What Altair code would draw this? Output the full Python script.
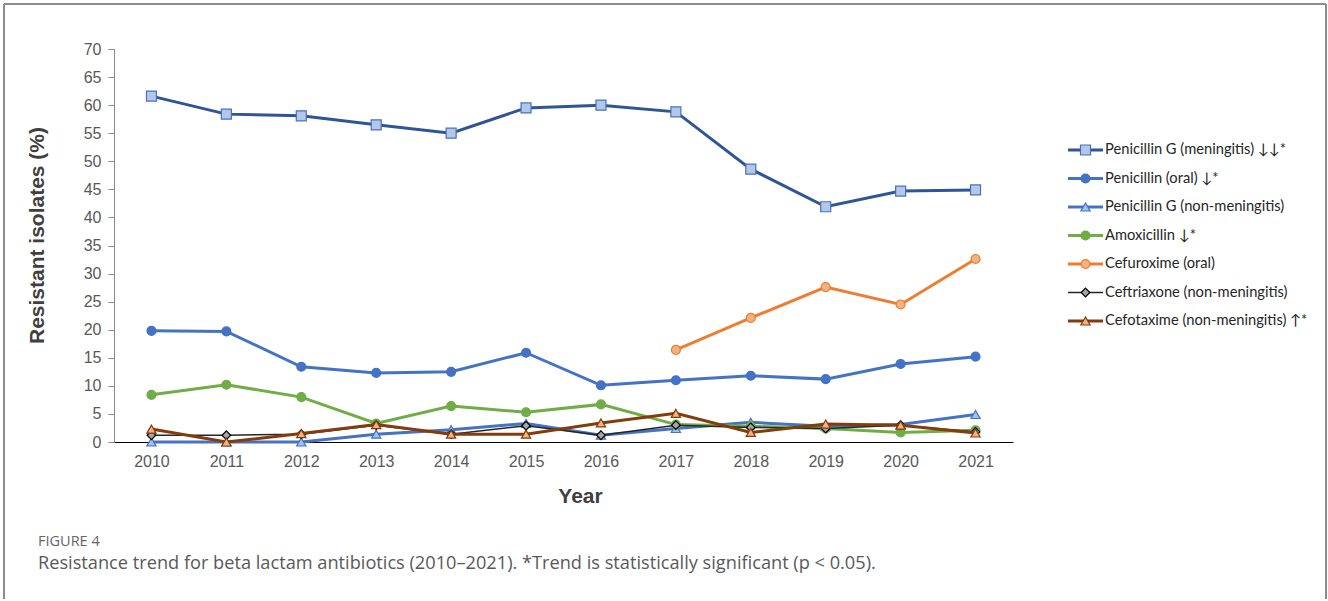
import altair as alt
import pandas as pd

# ---------------- data ----------------
years = list(range(2010, 2022))
pen_g_meningitis = [61.6, 58.4, 58.1, 56.5, 55.0, 59.5, 60.0, 58.8, 48.6, 41.9, 44.7, 44.9]
pen_oral = [19.8, 19.7, 13.4, 12.3, 12.5, 15.9, 10.1, 11.0, 11.8, 11.2, 13.9, 15.2]
pen_g_non_meningitis = [0.0, 0.0, 0.0, 1.4, 2.2, 3.3, 1.2, 2.4, 3.5, 2.8, 3.1, 4.9]
amoxicillin = [8.4, 10.2, 8.0, 3.3, 6.4, 5.3, 6.7, 3.1, 2.8, 2.4, 1.7, 2.1]
cefuroxime_oral = [None, None, None, None, None, None, None, 16.4, 22.1, 27.6, 24.5, 32.6]
ceftriaxone = [1.2, 1.2, 1.4, 3.0, 1.4, 2.9, 1.2, 3.0, 2.6, 2.4, 3.0, 1.8]
cefotaxime = [2.3, 0.0, 1.5, 3.1, 1.4, 1.4, 3.4, 5.1, 1.7, 3.2, 3.0, 1.6]

series_labels = [
    "Penicillin G (meningitis) \u2193\u2193*",
    "Penicillin (oral) \u2193*",
    "Penicillin G (non-meningitis)",
    "Amoxicillin \u2193*",
    "Cefuroxime (oral)",
    "Ceftriaxone (non-meningitis)",
    "Cefotaxime (non-meningitis) \u2191*",
]
series_values = [pen_g_meningitis, pen_oral, pen_g_non_meningitis, amoxicillin,
                 cefuroxime_oral, ceftriaxone, cefotaxime]

y_ticks = list(range(0, 75, 5))
x_title = "Year"
y_title = "Resistant isolates (%)"
fig_label = "FIGURE 4"
caption = ("Resistance trend for beta lactam antibiotics (2010\u20132021). "
           "*Trend is statistically significant (p < 0.05).")

# ---------------- styles ----------------
styles = [
    dict(line="#2F5597", width=3, shape="square", fill="#B4C7E7", stroke="#4472C4", size=100),
    dict(line="#4472C4", width=3, shape="circle", fill="#4472C4", stroke="#4472C4", size=80),
    dict(line="#4472C4", width=3, shape="triangle-up", fill="#9DC3E6", stroke="#4472C4", size=85),
    dict(line="#70AD47", width=3, shape="circle", fill="#70AD47", stroke="#70AD47", size=80),
    dict(line="#ED7D31", width=3, shape="circle", fill="#F4B183", stroke="#ED7D31", size=80),
    dict(line="#262626", width=1.5, shape="diamond", fill="#A5A5A5", stroke="#000000", size=75),
    dict(line="#843C0C", width=3, shape="triangle-up", fill="#F4B183", stroke="#843C0C", size=85),
]

rows = []
for i, (lab, vals) in enumerate(zip(series_labels, series_values)):
    for yr, v in zip(years, vals):
        if v is not None:
            rows.append({"series": lab, "idx": i, "year": yr, "value": v})
df = pd.DataFrame(rows)
legend_df = pd.DataFrame({"series": series_labels, "idx": list(range(len(series_labels)))})
one = pd.DataFrame({"k": [0]})

W, H = 899, 393

x_enc = alt.X("year:O",
              scale=alt.Scale(type="point", padding=0.5, domain=years),
              axis=alt.Axis(title=x_title, labelAngle=0, ticks=False,
                            domainColor="#000000", domainWidth=1.2,
                            labelColor="#595959", labelFontSize=16,
                            labelFont="Liberation Sans", labelPadding=11,
                            titleFont="Liberation Sans", titleFontSize=21,
                            titleFontWeight="bold", titleColor="#404040",
                            titlePadding=16, titleX=466))

def y_enc(with_axis):
    if with_axis:
        ax = alt.Axis(title=y_title, values=y_ticks, grid=False,
                      domainColor="#898989", tickColor="#898989", tickSize=6,
                      labelColor="#595959", labelFontSize=16, labelFont="Liberation Sans",
                      labelPadding=7, titleFont="Liberation Sans", titleFontSize=21,
                      titleFontWeight="bold", titleColor="#404040", titlePadding=36,
                      titleY=186)
    else:
        ax = None
    return alt.Y("value:Q", scale=alt.Scale(domain=[0, 70], nice=False, zero=True), axis=ax)

leg_y = alt.Y("idx:Q", scale=alt.Scale(domain=[-3.544, 10.245], reverse=True, nice=False, zero=False),
              axis=None)

layers = []
for i, lab in enumerate(series_labels):
    st = styles[i]
    sub = df[df["series"] == lab]
    line = alt.Chart(sub).mark_line(color=st["line"], strokeWidth=st["width"]).encode(
        x=x_enc, y=y_enc(i == 0))
    pts = alt.Chart(sub).mark_point(shape=st["shape"], filled=True, fill=st["fill"],
                                    stroke=st["stroke"], strokeWidth=1.2, size=st["size"],
                                    opacity=1).encode(x=x_enc, y=y_enc(False))
    layers += [line, pts]

# legend
for i, lab in enumerate(series_labels):
    st = styles[i]
    sub = legend_df[legend_df["series"] == lab]
    lr = alt.Chart(sub).mark_rule(color=st["line"], strokeWidth=st["width"]).encode(
        x=alt.value(954), x2=alt.value(989), y=leg_y)
    lp = alt.Chart(sub).mark_point(shape=st["shape"], filled=True, fill=st["fill"],
                                   stroke=st["stroke"], strokeWidth=1.2, size=st["size"],
                                   opacity=1).encode(x=alt.value(971.5), y=leg_y)
    lt = alt.Chart(sub).mark_text(align="left", baseline="middle", font="Lato",
                                  fontSize=14.7, color="#262626").encode(
        x=alt.value(991), y=leg_y, text="series:N")
    layers += [lr, lp, lt]

# caption
cap1 = alt.Chart(one).mark_text(align="left", baseline="middle", font="Open Sans", fontSize=14.5,
                                color="#666666").encode(
    x=alt.value(-76), y=alt.value(493), text=alt.value(fig_label))
cap2 = alt.Chart(one).mark_text(align="left", baseline="middle", font="Open Sans", fontSize=18.2,
                                color="#595959").encode(
    x=alt.value(-76), y=alt.value(515), text=alt.value(caption))
layers += [cap1, cap2]

# figure frame
fr_col = "#8c8c8c"
f1 = alt.Chart(one).mark_rule(color=fr_col, strokeWidth=2).encode(
    x=alt.value(-110), y=alt.value(-45), y2=alt.value(550))
f2 = alt.Chart(one).mark_rule(color=fr_col, strokeWidth=2).encode(
    x=alt.value(-110), x2=alt.value(1212), y=alt.value(-45))
f3 = alt.Chart(one).mark_rule(color=fr_col, strokeWidth=2).encode(
    x=alt.value(1212), y=alt.value(-45), y2=alt.value(550))
layers += [f1, f2, f3]

chart = alt.layer(*layers).resolve_scale(y="independent").properties(
    width=W, height=H,
    padding={"left": 3, "top": 3, "right": 0, "bottom": 0},
    background="white",
).configure_view(stroke=None)

chart.save("out.html", embed_options={"renderer": "svg", "actions": False})
